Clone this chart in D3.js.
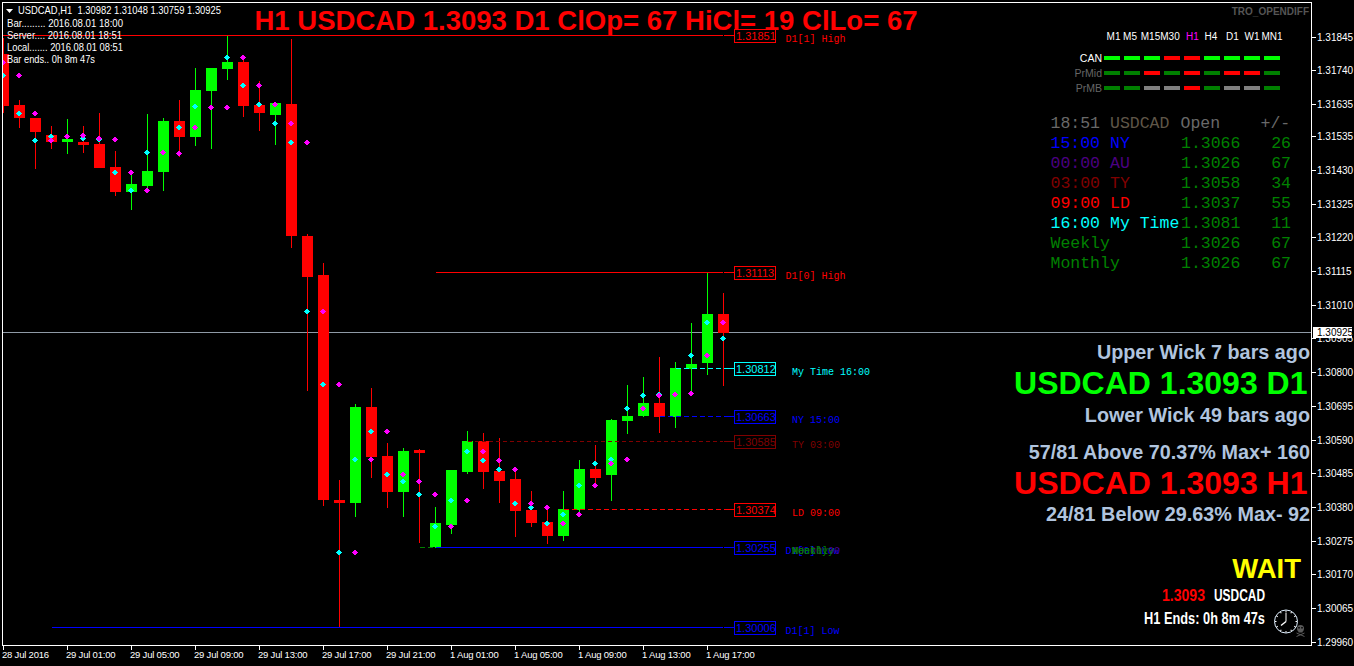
<!DOCTYPE html>
<html>
<head>
<meta charset="utf-8">
<title>USDCAD H1</title>
<script src="https://cdn.jsdelivr.net/npm/d3@7"></script>
<style>
html, body { margin: 0; padding: 0; background: #000; overflow: hidden; }
svg { display: block; }
.ui { font-family: "Liberation Sans", Arial, sans-serif; font-size: 10px; fill: #fff; }
.mono { font-family: "Liberation Mono", "Courier New", monospace; }
.bold { font-family: "Liberation Sans", Arial, sans-serif; font-weight: bold; }
</style>
</head>
<body>
<div class="chart"></div>
<script>
// bars (H1)
const barTimes = ["28 Jul 21:00", "28 Jul 22:00", "28 Jul 23:00", "29 Jul 00:00", "29 Jul 01:00", "29 Jul 02:00", "29 Jul 03:00", "29 Jul 04:00",
    "29 Jul 05:00", "29 Jul 06:00", "29 Jul 07:00", "29 Jul 08:00", "29 Jul 09:00", "29 Jul 10:00", "29 Jul 11:00", "29 Jul 12:00",
    "29 Jul 13:00", "29 Jul 14:00", "29 Jul 15:00", "29 Jul 16:00", "29 Jul 17:00", "29 Jul 18:00", "29 Jul 19:00", "29 Jul 20:00",
    "29 Jul 21:00", "29 Jul 22:00", "29 Jul 23:00", "1 Aug 00:00", "1 Aug 01:00", "1 Aug 02:00", "1 Aug 03:00", "1 Aug 04:00",
    "1 Aug 05:00", "1 Aug 06:00", "1 Aug 07:00", "1 Aug 08:00", "1 Aug 09:00", "1 Aug 10:00", "1 Aug 11:00", "1 Aug 12:00",
    "1 Aug 13:00", "1 Aug 14:00", "1 Aug 15:00", "1 Aug 16:00", "1 Aug 17:00", "1 Aug 18:00"];
const barOpen = [1.31793, 1.31634, 1.31593, 1.31540, 1.31519, 1.31519, 1.31512, 1.31441, 1.31363, 1.31382, 1.31425, 1.31584, 1.31534, 1.31678, 1.31746, 1.31768,
    1.31634, 1.31603, 1.31637, 1.31226, 1.31104, 1.30403, 1.30394, 1.30693, 1.30541, 1.30428, 1.30559, 1.30257, 1.30326, 1.30491, 1.30587, 1.30494,
    1.30469, 1.30372, 1.30335, 1.30291, 1.30372, 1.30500, 1.30481, 1.30649, 1.30665, 1.30706, 1.30662, 1.30812, 1.30830, 1.30982];
const barHigh = [1.31843, 1.31649, 1.31593, 1.31568, 1.31590, 1.31568, 1.31609, 1.31491, 1.31422, 1.31606, 1.31593, 1.31649, 1.31749, 1.31749, 1.31851, 1.31787,
    1.31709, 1.31640, 1.31840, 1.31232, 1.31142, 1.30466, 1.30703, 1.30752, 1.30581, 1.30565, 1.30562, 1.30382, 1.30497, 1.30618, 1.30612, 1.30597,
    1.30497, 1.30431, 1.30382, 1.30431, 1.30528, 1.30575, 1.30656, 1.30762, 1.30787, 1.30849, 1.30833, 1.30955, 1.31111, 1.31048];
const barLow = [1.31609, 1.31562, 1.31435, 1.31497, 1.31481, 1.31484, 1.31438, 1.31350, 1.31307, 1.31369, 1.31366, 1.31472, 1.31506, 1.31497, 1.31712, 1.31597,
    1.31553, 1.31509, 1.31188, 1.30743, 1.30385, 1.30006, 1.30351, 1.30472, 1.30379, 1.30351, 1.30270, 1.30255, 1.30298, 1.30484, 1.30438, 1.30394,
    1.30288, 1.30319, 1.30266, 1.30276, 1.30360, 1.30447, 1.30400, 1.30609, 1.30662, 1.30612, 1.30628, 1.30743, 1.30793, 1.30759];
const barClose = [1.31631, 1.31593, 1.31550, 1.31519, 1.31528, 1.31509, 1.31438, 1.31363, 1.31388, 1.31428, 1.31584, 1.31534, 1.31681, 1.31749, 1.31768, 1.31631,
    1.31609, 1.31640, 1.31226, 1.31098, 1.30403, 1.30394, 1.30693, 1.30537, 1.30428, 1.30556, 1.30550, 1.30332, 1.30497, 1.30587, 1.30491, 1.30463,
    1.30369, 1.30332, 1.30291, 1.30375, 1.30500, 1.30472, 1.30653, 1.30665, 1.30706, 1.30662, 1.30815, 1.30827, 1.30982, 1.30925];

// indicator dots
const cyanDots = [1.31727, 1.31609, 1.31524, 1.31537, 1.31537, 1.31530, 1.31527, 1.31424, 1.31369, 1.31487, 1.31487, 1.31564, 1.31630, 1.31628, 1.31784, 1.31695,
    1.31636, 1.31577, 1.31518, 1.30992, 1.30765, 1.30241, 1.30530, 1.30617, 1.30484, 1.30462, 1.30421, 1.30322, 1.30403, 1.30555, 1.30527, 1.30499,
    1.30393, 1.30381, 1.30331, 1.30359, 1.30449, 1.30518, 1.30530, 1.30689, 1.30730, 1.30732, 1.30733, 1.30854, 1.30957, 1.30907];
const magentaDots = [1.31768, 1.31727, 1.31608, 1.31525, 1.31537, 1.31539, 1.31530, 1.31527, 1.31424, 1.31368, 1.31487, 1.31483, 1.31564, 1.31628, 1.31627, 1.31784,
    1.31695, 1.31636, 1.31577, 1.31518, 1.30992, 1.30765, 1.30241, 1.30530, 1.30617, 1.30484, 1.30462, 1.30421, 1.30322, 1.30403, 1.30555, 1.30527,
    1.30499, 1.30393, 1.30381, 1.30331, 1.30359, 1.30449, 1.30518, 1.30530, 1.30689, 1.30730, 1.30733, 1.30736, 1.30854, 1.30957];

// axes
const priceTicks = [1.31845, 1.31740, 1.31635, 1.31535, 1.31430, 1.31325, 1.31220, 1.31115, 1.31010, 1.30905, 1.30800, 1.30695, 1.30590, 1.30485, 1.30380, 1.30275, 1.30170, 1.30065, 1.29960];
const timeTicks = ["28 Jul 21:00", "29 Jul 01:00", "29 Jul 05:00", "29 Jul 09:00", "29 Jul 13:00", "29 Jul 17:00", "29 Jul 21:00", "1 Aug 01:00", "1 Aug 05:00", "1 Aug 09:00", "1 Aug 13:00", "1 Aug 17:00"];
const lastPrice = 1.30925;

// levels
const levelPrices = [1.31851, 1.31113, 1.30812, 1.30663, 1.30585, 1.30374, 1.30255, 1.30006];
const levelNames = ["D1[1] High", "D1[0] High", "My Time 16:00", "NY 15:00", "TY 03:00", "LD 09:00", "D1[0] Low", "D1[1] Low"];
const levelFrom = ["28 Jul 21:00", "1 Aug 00:00", "1 Aug 15:00", "1 Aug 14:00", "1 Aug 02:00", "1 Aug 08:00", "1 Aug 00:00", "29 Jul 00:00"];

// trend matrix
const frames = ["M1", "M5", "M15", "M30", "H1", "H4", "D1", "W1", "MN1"];
const trendCan = [1, 1, 1, -1, -1, 1, 1, 1, 1];
const trendPrMid = [1, 1, -1, 1, -1, 1, -1, -1, 1];
const trendPrMB = [1, 1, 0, 0, -1, 1, 0, 0, 1];

// session table
const sessionTimes = ["15:00", "00:00", "03:00", "09:00", "16:00", "", ""];
const sessionNames = ["NY", "AU", "TY", "LD", "My Time", "Weekly", "Monthly"];
const sessionOpens = ["1.3066", "1.3026", "1.3058", "1.3037", "1.3081", "1.3026", "1.3026"];
const sessionDiffs = [26, 67, 34, 55, 11, 67, 67];

const width = 1354;
const height = 666;
const frame = { left: 2.5, top: 2.5, right: 1311.5, bottom: 645.5 };

const upColor = "#00ff00";
const downColor = "#ff0000";
const levelColors = ["#ff0000", "#ff0000", "#00ffff", "#0000ff", "#800000", "#ff0000", "#0000ff", "#0000ff"];
const levelDash = [null, null, "5,3", "5,3", "4,3", "5,3", null, null];
const sessionColors = ["#0000ff", "#4b0082", "#800000", "#ff0000", "#00ffff", "#008000", "#008000"];

const svg = d3.select(".chart")
    .append("svg")
    .attr("width", width)
    .attr("height", height);

// scales
const x = d3.scalePoint().domain(barTimes).range([3.5, 723.5]);
const y = d3.scaleLinear().domain([1.31851, 1.30006]).range([35.3, 627.5]);
const py = v => Math.round(y(v));
const rowOf = v => Math.floor(y(v)) + 0.5;

svg.append("clipPath").attr("id", "plot")
    .append("rect")
    .attr("x", frame.left)
    .attr("y", frame.top)
    .attr("width", frame.right - frame.left)
    .attr("height", frame.bottom - frame.top);

const plot = svg.append("g").attr("clip-path", "url(#plot)");

// current price line, behind the candles
plot.append("line")
    .attr("x1", frame.left).attr("x2", frame.right)
    .attr("y1", rowOf(lastPrice)).attr("y2", rowOf(lastPrice))
    .attr("stroke", "#8f9aa6")
    .attr("shape-rendering", "crispEdges");

const bars = barTimes.map((t, i) => ({ t, o: barOpen[i], h: barHigh[i], l: barLow[i], c: barClose[i] }));
const barColor = d => d.c >= d.o ? upColor : downColor;

// wicks
plot.selectAll(".wick")
    .data(bars)
    .enter()
    .append("line")
    .attr("class", "wick")
    .attr("x1", d => x(d.t)).attr("x2", d => x(d.t))
    .attr("y1", d => py(d.h)).attr("y2", d => py(d.l))
    .attr("stroke", barColor)
    .attr("shape-rendering", "crispEdges");

// bodies
plot.selectAll(".body")
    .data(bars)
    .enter()
    .append("rect")
    .attr("class", "body")
    .attr("x", d => x(d.t) - 5.5)
    .attr("y", d => py(Math.max(d.o, d.c)))
    .attr("width", 11)
    .attr("height", d => Math.max(3, py(Math.min(d.o, d.c)) - py(Math.max(d.o, d.c))))
    .attr("fill", barColor)
    .attr("shape-rendering", "crispEdges");

// dots
const dot = d3.symbol().type(d3.symbolSquare).size(18);
[[cyanDots, "#00ffff"], [magentaDots, "#ff00ff"]].forEach(([values, color]) => {
    plot.selectAll(null)
        .data(values)
        .enter()
        .append("path")
        .attr("d", dot)
        .attr("transform", (d, i) => `translate(${x(barTimes[i]) - 0.5},${py(d) + 0.5}) rotate(45)`)
        .attr("fill", color)
        .attr("shape-rendering", "crispEdges");
});

// level lines
levelPrices.forEach((p, i) => {
    const ly = rowOf(p);
    const start = i === 0 ? frame.left : x(levelFrom[i]);
    plot.append("line")
        .attr("x1", start).attr("x2", 723)
        .attr("y1", ly).attr("y2", ly)
        .attr("stroke", levelColors[i])
        .attr("stroke-dasharray", levelDash[i])
        .attr("shape-rendering", "crispEdges");
    plot.append("line")
        .attr("x1", 724).attr("x2", 734)
        .attr("y1", ly).attr("y2", ly)
        .attr("stroke", levelColors[i])
        .attr("shape-rendering", "crispEdges");
    plot.append("rect")
        .attr("x", 734.5).attr("y", ly - 6.5)
        .attr("width", 41).attr("height", 13)
        .attr("fill", "#000")
        .attr("stroke", levelColors[i])
        .attr("shape-rendering", "crispEdges");
    plot.append("text")
        .attr("class", "ui")
        .attr("x", 736).attr("y", ly + 4)
        .style("font-size", "11px")
        .style("fill", levelColors[i])
        .text(p.toFixed(5));
    plot.append("text")
        .attr("class", "mono")
        .attr("x", levelNames[i].startsWith("D1") ? 785.5 : 792)
        .attr("y", ly + 6.5)
        .style("font-size", "10px")
        .style("fill", levelColors[i])
        .text(levelNames[i]);
});

// the green open lines and names sit on top of the D1[0] Low level
const lowY = rowOf(1.30255);
plot.append("line")
    .attr("x1", x("29 Jul 23:00")).attr("x2", x("1 Aug 00:00"))
    .attr("y1", lowY).attr("y2", lowY)
    .attr("stroke", "#008000")
    .attr("stroke-dasharray", "5,3")
    .attr("shape-rendering", "crispEdges");
["AU 00:00", "Weekly", "Monthly"].forEach((t, i) => {
    plot.append("text")
        .attr("class", "mono")
        .attr("x", 792).attr("y", lowY + 6.5)
        .style("font-size", "10px")
        .style("fill", i === 0 ? "#4b0082" : "#008000")
        .text(t);
});

// axes
const yAxis = d3.axisRight(y).tickValues(priceTicks).tickFormat(d3.format(".5f")).tickSize(4).tickSizeOuter(0).offset(0);
const xAxis = d3.axisBottom(x).tickValues(timeTicks)
    .tickFormat(d => d === timeTicks[0] ? "28 Jul 2016" : d)
    .tickSize(4).tickSizeOuter(0).offset(0);

const yG = svg.append("g")
    .attr("transform", `translate(${frame.right},0)`)
    .call(yAxis);
const xG = svg.append("g")
    .attr("transform", `translate(0,${frame.bottom})`)
    .call(xAxis);
[yG, xG].forEach(g => {
    g.select(".domain").remove();
    g.selectAll("line").attr("stroke", "#fff").attr("shape-rendering", "crispEdges");
    g.selectAll("text").attr("class", "ui").attr("fill", "#fff").style("font-size", "10px").style("font-family", '"Liberation Sans", Arial, sans-serif');
});
yG.selectAll("text").attr("x", 5.5).attr("dy", "0.35em");
xG.selectAll("text")
    .attr("text-anchor", "start")
    .attr("x", -1.5).attr("y", 12).attr("dy", "0")
    .style("font-size", "9.5px")
    .style("letter-spacing", "-0.2px");

// frame
svg.append("rect")
    .attr("x", frame.left).attr("y", frame.top)
    .attr("width", frame.right - frame.left)
    .attr("height", frame.bottom - frame.top)
    .attr("fill", "none")
    .attr("stroke", "#fff")
    .attr("shape-rendering", "crispEdges");

// last price tag
svg.append("rect")
    .attr("x", 1313).attr("y", rowOf(lastPrice) - 5.5)
    .attr("width", 39).attr("height", 11)
    .attr("fill", "#fff");
svg.append("text")
    .attr("class", "ui")
    .attr("x", 1317).attr("y", rowOf(lastPrice) + 3.5)
    .style("fill", "#000")
    .text(lastPrice.toFixed(5));

// helper for the free text
function label(txt, tx, ty, size, color, cls, anchor) {
    return svg.append("text")
        .attr("class", cls)
        .attr("x", tx).attr("y", ty)
        .attr("text-anchor", anchor || "start")
        .style("font-size", size + "px")
        .style("fill", color)
        .text(txt);
}
const fit = (sel, len) => sel.attr("textLength", len).attr("lengthAdjust", "spacingAndGlyphs");

// top left info
svg.append("path").attr("d", "M6,9H13L9.5,13Z").attr("fill", "#fff");
fit(label("USDCAD,H1  1.30982 1.31048 1.30759 1.30925", 18, 14, 10.5, "#fff", "ui").style("white-space", "pre"), 203);
fit(label("Bar......... 2016.08.01 18:00", 7, 27, 10.5, "#fff", "ui"), 116);
fit(label("Server.... 2016.08.01 18:51", 7, 39, 10.5, "#fff", "ui"), 115);
fit(label("Local....... 2016.08.01 08:51", 7, 51, 10.5, "#fff", "ui"), 116);
fit(label("Bar ends.. 0h 8m 47s", 7, 63, 10.5, "#fff", "ui"), 88);

// title
fit(label("H1 USDCAD 1.3093 D1 ClOp= 67 HiCl= 19 ClLo= 67", 254.5, 29.5, 28, "#ff0000", "bold"), 663);
label("TRO_OPENDIFF", 1309, 15, 10, "#555555", "bold", "end");

// trend matrix
const frameX = d3.scalePoint().domain(frames).range([1112, 1272]);
const frameCenters = [1113.5, 1130, 1150.5, 1170, 1192.5, 1211, 1232.5, 1252, 1272];
frames.forEach((f, i) => {
    label(f, frameCenters[i], 39.5, 10, f === "H1" ? "#ff00ff" : "#fff", "ui", "middle");
});
const trendRows = [["CAN", trendCan, 58, "#fff"], ["PrMid", trendPrMid, 73, "#666666"], ["PrMB", trendPrMB, 88, "#666666"]];
trendRows.forEach(([name, values, rowY, color], r) => {
    label(name, 1102, rowY + 4, 10.5, color, "ui", "end");
    svg.selectAll(null)
        .data(values)
        .enter()
        .append("rect")
        .attr("x", (d, i) => frameX(frames[i]) - 8)
        .attr("y", rowY - 2)
        .attr("width", 16)
        .attr("height", 4)
        .attr("fill", d => d < 0 ? "#ff0000" : d === 0 ? "#808080" : (r === 0 ? "#00ff00" : "#008000"))
        .attr("shape-rendering", "crispEdges");
});

// session table
const rowH = 20;
const tableFont = 16.5;
label("18:51", 1050.5, 127.5, tableFont, "#696969", "mono");
label("USDCAD", 1110, 127.5, tableFont, "#5f5648", "mono");
label("Open", 1180.5, 127.5, tableFont, "#696969", "mono");
label("+/-", 1260.5, 127.5, tableFont, "#696969", "mono");
sessionNames.forEach((name, i) => {
    const rowY = 147.5 + i * rowH;
    if (sessionTimes[i]) {
        label(sessionTimes[i], 1050.5, rowY, tableFont, sessionColors[i], "mono");
        label(name, 1110, rowY, tableFont, sessionColors[i], "mono");
    } else {
        label(name, 1050.5, rowY, tableFont, sessionColors[i], "mono");
    }
    label(sessionOpens[i], 1181, rowY, tableFont, "#008000", "mono");
    label(sessionDiffs[i], 1291, rowY, tableFont, "#008000", "mono", "end");
});

// right side block
const steel = "#b0c4de";
label("Upper Wick 7 bars ago", 1310, 358.5, 19.8, steel, "bold", "end");
label("USDCAD 1.3093 D1", 1307.5, 393.5, 32, "#00ff00", "bold", "end");
label("Lower Wick 49 bars ago", 1310, 422, 19.8, steel, "bold", "end");
label("57/81 Above 70.37% Max+ 160", 1310, 458.5, 19.8, steel, "bold", "end");
label("USDCAD 1.3093 H1", 1307.5, 493.5, 32, "#ff0000", "bold", "end");
label("24/81 Below 29.63% Max- 92", 1310, 521, 19.8, steel, "bold", "end");
label("WAIT", 1301, 577.5, 27.5, "#ffff00", "bold", "end");

fit(label("1.3093", 1162, 601, 17, "#ff0000", "bold"), 43);
fit(label("USDCAD", 1214, 601, 17, "#fff", "bold"), 51);
fit(label("H1 Ends: 0h 8m 47s", 1144, 624, 17, "#fff", "bold"), 121);

// clock
const clock = svg.append("g").attr("transform", "translate(1286,621.5)");
clock.append("circle").attr("r", 11.5).attr("fill", "none").attr("stroke", "#dfefff").attr("stroke-width", 1);
clock.selectAll(null)
    .data(d3.range(12))
    .enter()
    .append("line")
    .attr("y1", -11).attr("y2", -9.5)
    .attr("transform", d => `rotate(${d * 30})`)
    .attr("stroke", "#fff");
clock.append("line").attr("x1", 0).attr("y1", 0).attr("x2", 0).attr("y2", -9).attr("stroke", "#fff");
clock.append("line").attr("x1", 0).attr("y1", 0).attr("x2", -5).attr("y2", 4).attr("stroke", "#fff").attr("stroke-width", 1.5);

// skull and bones
const skull = svg.append("g").attr("transform", "translate(1300.5,628.5)");
skull.append("circle").attr("r", 3.5).attr("fill", "#5a5a5a");
skull.append("rect").attr("x", -2).attr("y", 2).attr("width", 4).attr("height", 2).attr("fill", "#5a5a5a");
skull.selectAll(null)
    .data([-1, 1])
    .enter()
    .append("line")
    .attr("x1", d => d * -4).attr("y1", 4.5)
    .attr("x2", d => d * 4).attr("y2", 8)
    .attr("stroke", "#5a5a5a");
skull.selectAll(null)
    .data([-1, 1])
    .enter()
    .append("rect")
    .attr("x", d => d * 1.5 - 0.75).attr("y", -1.5)
    .attr("width", 1.5).attr("height", 1.5)
    .attr("fill", "#000");
</script>
</body>
</html>
